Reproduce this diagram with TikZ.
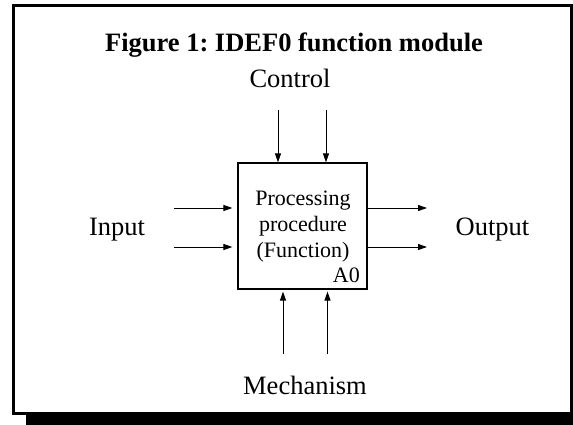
\documentclass[tikz,border=0pt]{standalone}
\usepackage{fontspec}
\setmainfont{Liberation Serif}
\usetikzlibrary{arrows.meta}
\frenchspacing
\begin{document}
\begin{tikzpicture}[x=1pt,y=-1pt,
  label/.style={inner sep=0pt,anchor=base,font=\fontsize{26.5}{32}\selectfont},
  flow/.style={line width=1pt,-{Triangle[length=9pt,width=6pt]}},
  fnbox/.style={draw,line width=1.2pt,minimum width=129pt,minimum height=126pt,inner sep=0pt}]
  \useasboundingbox (0,0) rectangle (573,425);
  \clip (0,0) rectangle (573,425);
  % drop shadow and frame
  \fill[black] (26,400) rectangle (600,440);
  \draw[line width=3pt,fill=white] (13.5,5.5) rectangle (571.5,413.5);
  % headings and labels
  \node[label,font=\fontsize{26.5}{32}\selectfont\bfseries] (title) at (294,52) {Figure 1: IDEF0 function module};
  \node[label] (control) at (290,88) {Control};
  \node[label] (input) at (117,235) {Input};
  \node[label] (output) at (492.5,235) {Output};
  \node[label] (mech) at (305,394) {Mechanism};
  % function box
  \node[fnbox] (box) at (302.5,226) {};
  \node[inner sep=0pt,align=center,font=\fontsize{22}{26}\selectfont] (proc) at (303,226.5) {Processing\\procedure\\(Function)};
  \node[inner sep=0pt,anchor=base east,font=\fontsize{22}{26}\selectfont] (code) at (360,282) {A0};
  % free ends of the arrows
  \coordinate (c1) at (278,110);
  \coordinate (c2) at (326,110);
  \coordinate (i1) at (174,208);
  \coordinate (i2) at (174,247);
  \coordinate (o1) at (427,208);
  \coordinate (o2) at (427,247);
  \coordinate (m1) at (283,354);
  \coordinate (m2) at (327.5,354);
  % arrows
  \draw[flow] (c1) -- (c1 |- box.north);
  \draw[flow] (c2) -- (c2 |- box.north);
  \draw[flow,shorten >=5pt] (i1) -- (i1 -| box.west);
  \draw[flow,shorten >=5pt] (i2) -- (i2 -| box.west);
  \draw[flow] (o1 -| box.east) -- (o1);
  \draw[flow] (o2 -| box.east) -- (o2);
  \draw[flow,shorten >=2pt] (m1) -- (m1 |- box.south);
  \draw[flow,shorten >=2pt] (m2) -- (m2 |- box.south);
\end{tikzpicture}
\end{document}
